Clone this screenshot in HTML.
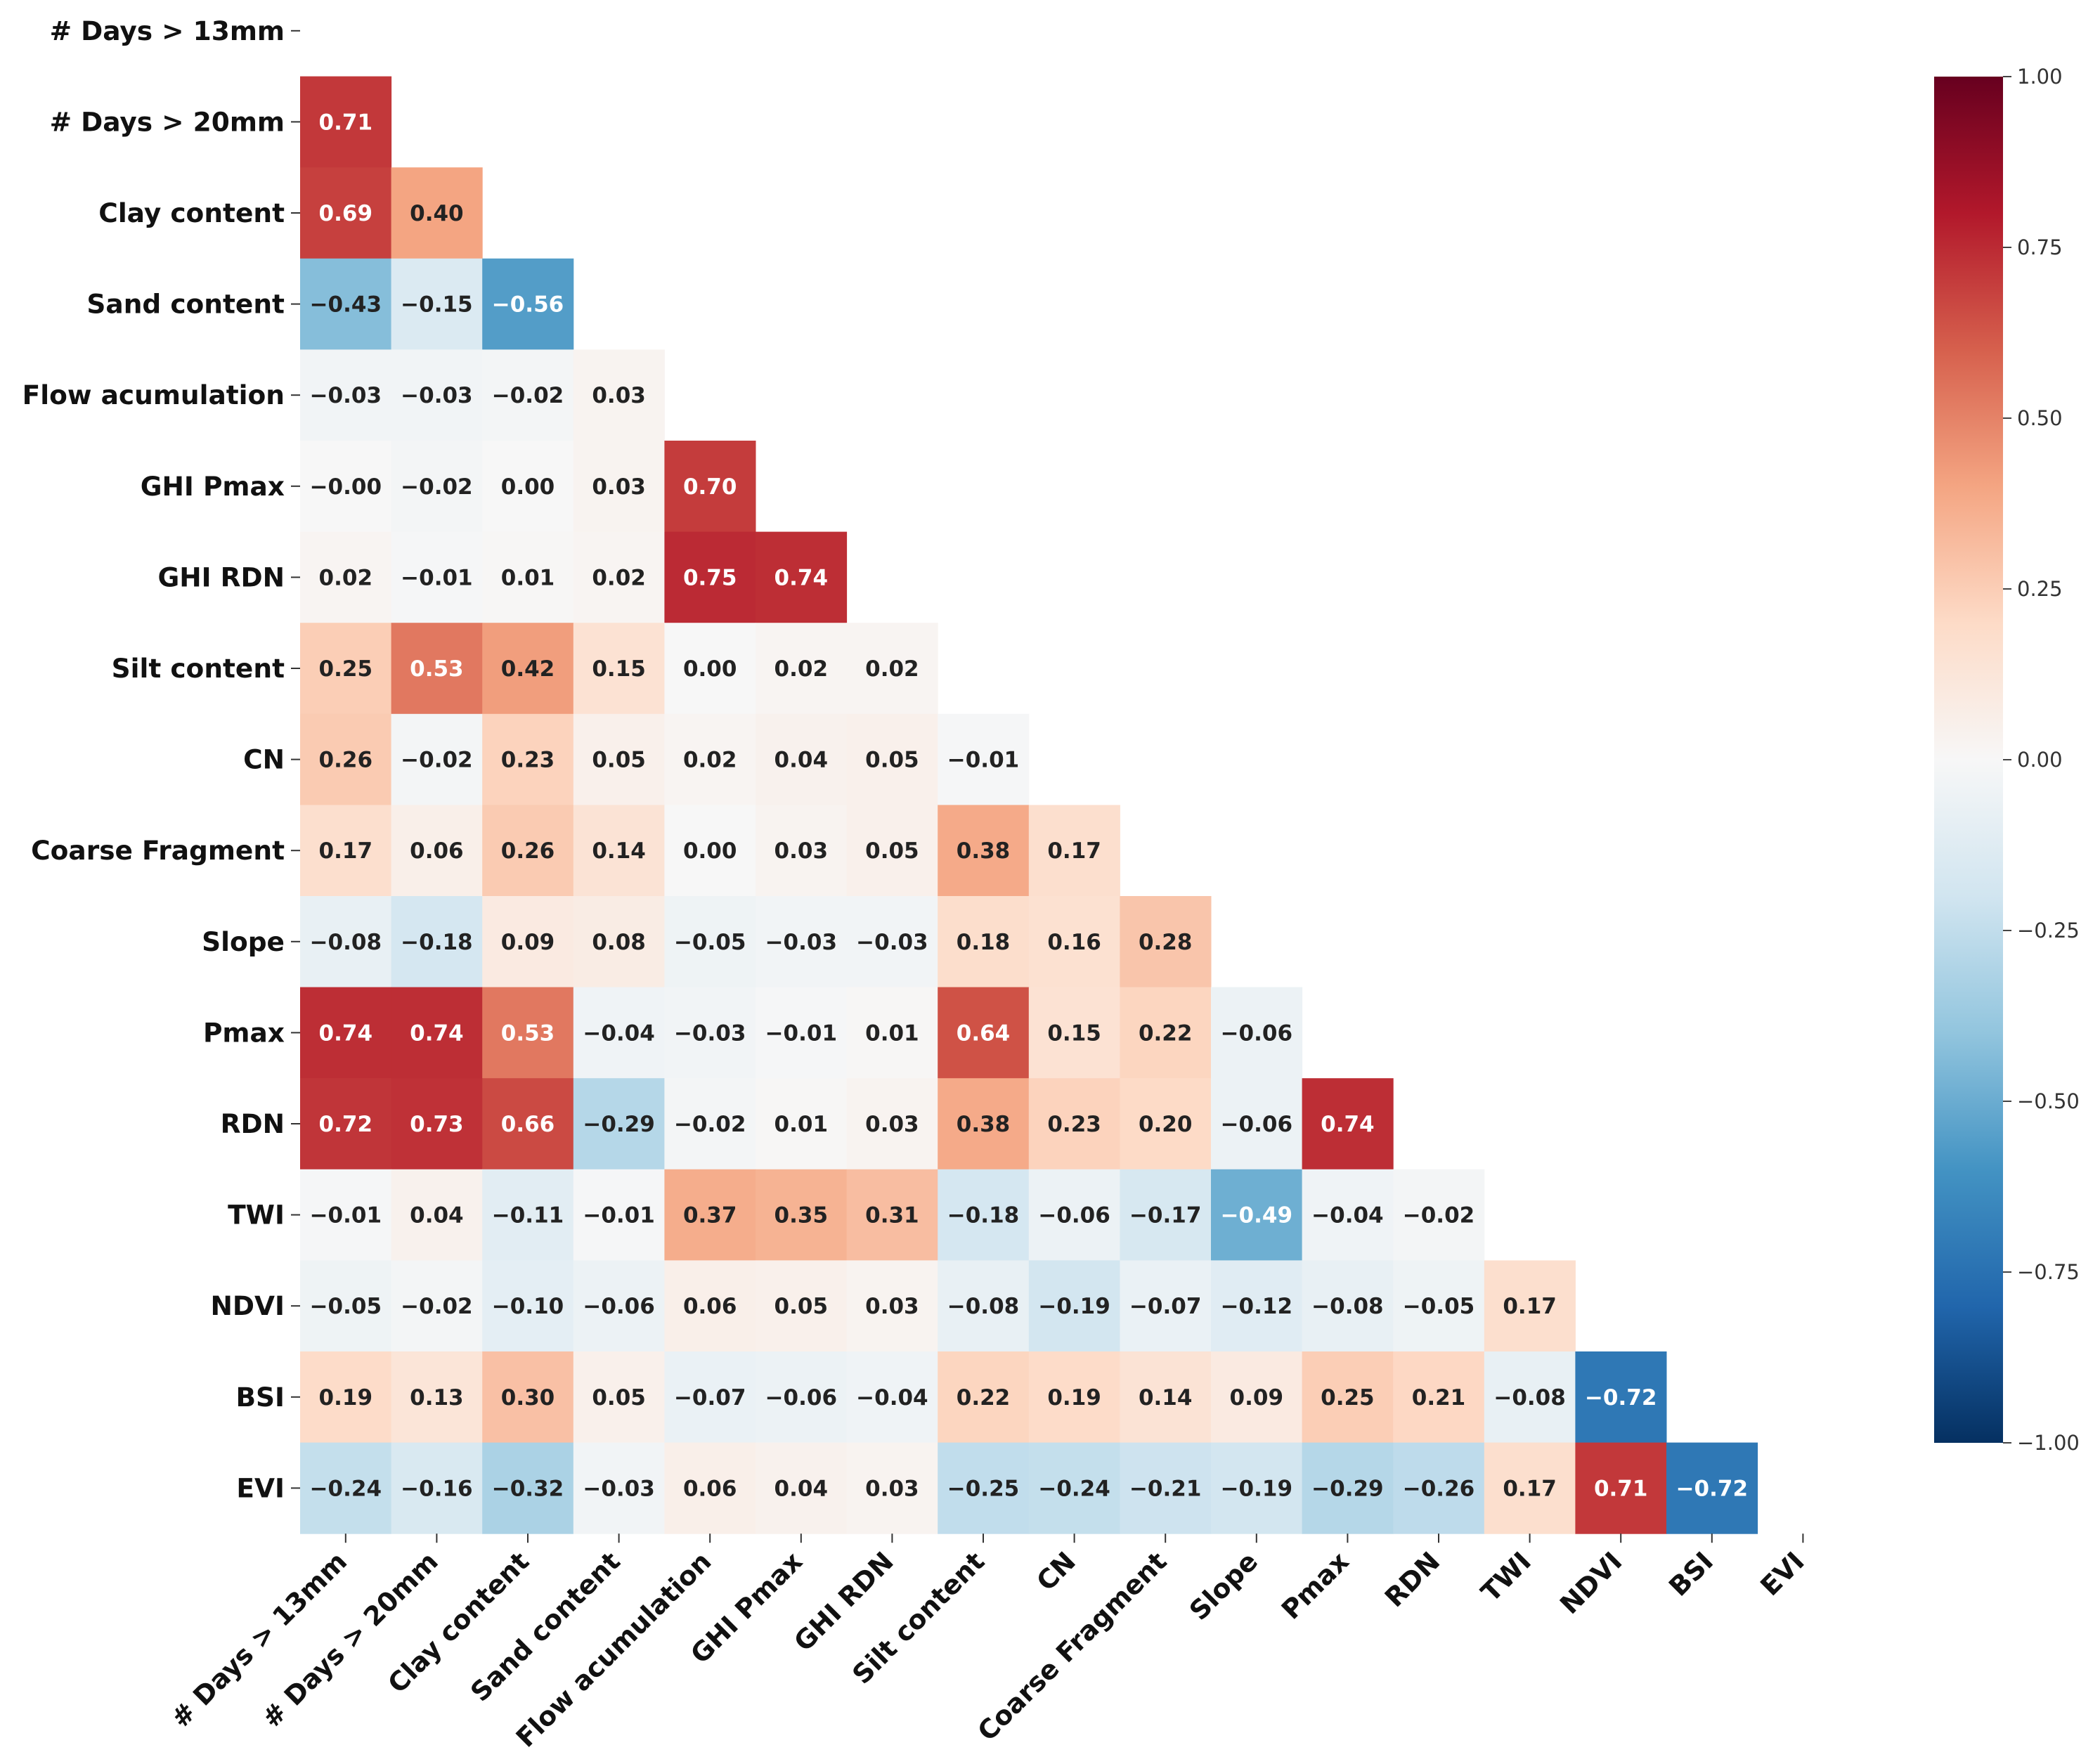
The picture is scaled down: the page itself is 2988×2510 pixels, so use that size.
<!DOCTYPE html>
<html><head><meta charset="utf-8"><style>
html,body{margin:0;padding:0;background:#fff;}
svg{display:block;font-family:"DejaVu Sans","Liberation Sans",sans-serif;}
</style></head><body>
<svg id="chart" width="2988" height="2510" viewBox="0 0 2988 2510" xmlns="http://www.w3.org/2000/svg">
<defs>
<linearGradient id="cbGrad" x1="0" y1="1" x2="0" y2="0">
<stop offset="0" stop-color="#053061"/><stop offset="0.1" stop-color="#2166ac"/><stop offset="0.2" stop-color="#4393c3"/><stop offset="0.3" stop-color="#92c5de"/><stop offset="0.4" stop-color="#d1e5f0"/><stop offset="0.5" stop-color="#f7f7f7"/><stop offset="0.6" stop-color="#fddbc7"/><stop offset="0.7" stop-color="#f4a582"/><stop offset="0.8" stop-color="#d6604d"/><stop offset="0.9" stop-color="#b2182b"/><stop offset="1" stop-color="#67001f"/>
</linearGradient>
</defs>
<g id="cells"></g>
<g id="yaxis"></g>
<g id="xaxis"></g>
<g id="cbar"></g>
</svg>
<script>
const labels = ["# Days > 13mm","# Days > 20mm","Clay content","Sand content","Flow acumulation","GHI Pmax","GHI RDN","Silt content","CN","Coarse Fragment","Slope","Pmax","RDN","TWI","NDVI","BSI","EVI"];
const rows = [
[],
[0.71],
[0.69,0.40],
[-0.43,-0.15,-0.56],
[-0.03,-0.03,-0.02,0.03],
[-0.001,-0.02,0.00,0.03,0.70],
[0.02,-0.01,0.01,0.02,0.75,0.74],
[0.25,0.53,0.42,0.15,0.00,0.02,0.02],
[0.26,-0.02,0.23,0.05,0.02,0.04,0.05,-0.01],
[0.17,0.06,0.26,0.14,0.00,0.03,0.05,0.38,0.17],
[-0.08,-0.18,0.09,0.08,-0.05,-0.03,-0.03,0.18,0.16,0.28],
[0.74,0.74,0.53,-0.04,-0.03,-0.01,0.01,0.64,0.15,0.22,-0.06],
[0.72,0.73,0.66,-0.29,-0.02,0.01,0.03,0.38,0.23,0.20,-0.06,0.74],
[-0.01,0.04,-0.11,-0.01,0.37,0.35,0.31,-0.18,-0.06,-0.17,-0.49,-0.04,-0.02],
[-0.05,-0.02,-0.10,-0.06,0.06,0.05,0.03,-0.08,-0.19,-0.07,-0.12,-0.08,-0.05,0.17],
[0.19,0.13,0.30,0.05,-0.07,-0.06,-0.04,0.22,0.19,0.14,0.09,0.25,0.21,-0.08,-0.72],
[-0.24,-0.16,-0.32,-0.03,0.06,0.04,0.03,-0.25,-0.24,-0.21,-0.19,-0.29,-0.26,0.17,0.71,-0.72]
];
const cbTicks = [1.00,0.75,0.50,0.25,0.00,-0.25,-0.50,-0.75,-1.00];

const NS="http://www.w3.org/2000/svg";
const X0=427, Y0=-21, CW=129.6, CH=129.6;
const xPos=j=>X0+j*CW, yPos=i=>Y0+i*CH;
const CB_TOP=109, CB_BOT=2053, CB_X=2752, CB_W=98;
const cbY=v=>CB_TOP+(1-v)/2*(CB_BOT-CB_TOP);
const stops=["#053061","#2166ac","#4393c3","#92c5de","#d1e5f0","#f7f7f7","#fddbc7","#f4a582","#d6604d","#b2182b","#67001f"].map(h=>[parseInt(h.substr(1,2),16),parseInt(h.substr(3,2),16),parseInt(h.substr(5,2),16)]);
function color(v){const t=(v+1)/2*10;const i=Math.min(9,Math.max(0,Math.floor(t)));const f=t-i;const a=stops[i],b=stops[i+1];return `rgb(${a.map((c,k)=>Math.round(c+(b[k]-c)*f)).join(",")})`;}
function fmt(v){const s=Math.abs(v).toFixed(2);return (v<0?"\u2212":"")+s;}
function mk(tag,attrs,parent){const e=document.createElementNS(NS,tag);for(const k in attrs)e.setAttribute(k,attrs[k]);parent.appendChild(e);return e;}

const gC=document.getElementById('cells');
rows.forEach((r,i)=>r.forEach((v,j)=>{
  const rc=mk('rect',{x:xPos(j),y:yPos(i),width:CW+0.5,height:CH+0.5,fill:color(v)},gC);
  
  
  const t=mk('text',{x:xPos(j)+CW/2,y:yPos(i)+CH/2+11,'text-anchor':'middle','font-size':31,'font-weight':'bold',fill:Math.abs(v)>0.45?'#fff':'#222'},gC);
  t.textContent=fmt(v);
  
  
}));

const gY=document.getElementById('yaxis');
labels.forEach((l,i)=>{
  const cy=yPos(i)+CH/2;
  const tk=mk('line',{x1:X0-13,x2:X0,y1:cy,y2:cy,stroke:'#333','stroke-width':2},gY);
  
  
  const t=mk('text',{x:X0-22,y:cy+13,'text-anchor':'end','font-size':37.5,'font-weight':'bold',fill:'#111'},gY);
  t.textContent=l;
  
  
});

const gX=document.getElementById('xaxis');
const XB=Y0+17*CH;
labels.forEach((l,j)=>{
  const cx=xPos(j)+CW/2;
  const tk=mk('line',{x1:cx,x2:cx,y1:XB,y2:XB+13,stroke:'#333','stroke-width':2},gX);
  
  
  const t=mk('text',{x:cx+4,y:XB+42,'text-anchor':'end','font-size':37.5,'font-weight':'bold',fill:'#111',transform:`rotate(-45 ${cx+4} ${XB+42})`},gX);
  t.textContent=l;
  
  
});

const gB=document.getElementById('cbar');
const bar=mk('rect',{x:CB_X,y:CB_TOP,width:CB_W,height:CB_BOT-CB_TOP,fill:'url(#cbGrad)'},gB);


cbTicks.forEach(v=>{
  const y=cbY(v);
  const tk=mk('line',{x1:CB_X+CB_W,x2:CB_X+CB_W+12,y1:y,y2:y,stroke:'#444','stroke-width':2},gB);
  
  
  const t=mk('text',{x:CB_X+CB_W+20,y:y+10,'font-size':29,fill:'#333'},gB);
  t.textContent=fmt(v);
  
  
});
</script>
</body></html>
